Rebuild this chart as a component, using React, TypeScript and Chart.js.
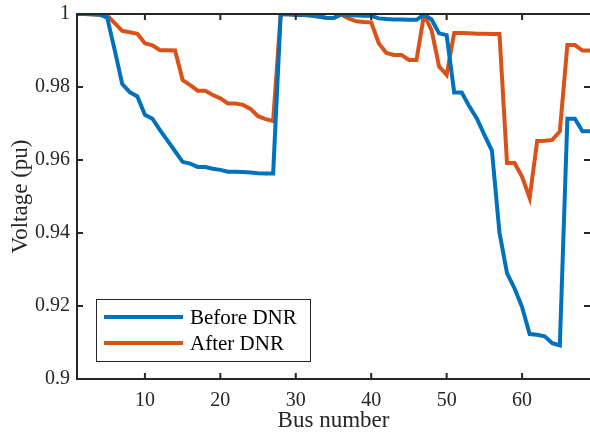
import React, { useEffect, useRef } from "react";
import { Chart, registerables } from "chart.js";

Chart.register(...registerables);

const busNumbers: number[] = Array.from({ length: 69 }, (_, i) => i + 1);

const beforeDNR: number[] = [
  1.0, 1.0, 0.9999, 0.9998, 0.999, 0.9901, 0.9808, 0.9786, 0.9774, 0.9724,
  0.9713, 0.9682, 0.9653, 0.9624, 0.9595, 0.959, 0.9581, 0.9581, 0.9576, 0.9573,
  0.9568, 0.9568, 0.9567, 0.9566, 0.9564, 0.9563, 0.9563, 0.9999, 0.9999, 0.9997,
  0.9997, 0.9996, 0.9993, 0.999, 0.9989, 0.9999, 0.9997, 0.9996, 0.9995, 0.9995,
  0.9988, 0.9986, 0.9985, 0.9985, 0.9984, 0.9984, 0.9998, 0.9985, 0.9947, 0.9942,
  0.9785, 0.9785, 0.9747, 0.9714, 0.9669, 0.9626, 0.9401, 0.929, 0.9248, 0.9197,
  0.9123, 0.9121, 0.9117, 0.9098, 0.9092, 0.9713, 0.9713, 0.9679, 0.9679,
];

const afterDNR: number[] = [
  1.0, 1.0, 0.9999, 0.9998, 0.9996, 0.9975, 0.9954, 0.995, 0.9946, 0.992,
  0.9914, 0.9901, 0.9901, 0.99, 0.9819, 0.9805, 0.979, 0.979, 0.9778, 0.9769,
  0.9755, 0.9755, 0.9751, 0.974, 0.972, 0.9712, 0.9707, 0.9999, 0.9999, 0.9998,
  0.9998, 0.9996, 0.9993, 0.999, 0.9989, 0.9999, 0.9988, 0.998, 0.9978, 0.9977,
  0.992, 0.9893, 0.9888, 0.9888, 0.9874, 0.9874, 0.9998, 0.9956, 0.9856, 0.9833,
  0.9948, 0.9948, 0.9947, 0.9946, 0.9946, 0.9945, 0.9945, 0.9592, 0.9592, 0.9554,
  0.9496, 0.9652, 0.9653, 0.9655, 0.9678, 0.9915, 0.9915, 0.99, 0.99,
];

const xTickValues: number[] = [10, 20, 30, 40, 50, 60];
const yTickValues: number[] = [0.9, 0.92, 0.94, 0.96, 0.98, 1.0];
const yTickLabels: string[] = ["0.9", "0.92", "0.94", "0.96", "0.98", "1"];
const seriesNames: string[] = ["Before DNR", "After DNR"];
const seriesColors: string[] = ["#0072BD", "#D95319"];

const FONT = "'Liberation Serif', 'Times New Roman', serif";
const AXIS_COLOR = "#262626";

const framePlugin = {
  id: "matlabFrame",
  afterDatasetsDraw(chart: any) {
    const { ctx, chartArea } = chart;
    const { left, top, bottom } = chartArea;
    const right = chart.width;
    const xs = chart.scales.x;
    const ys = chart.scales.y;
    ctx.save();
    ctx.strokeStyle = AXIS_COLOR;
    ctx.lineWidth = 2;
    ctx.beginPath();
    ctx.moveTo(right, top);
    ctx.lineTo(left, top);
    ctx.lineTo(left, bottom);
    ctx.lineTo(right, bottom);
    ctx.stroke();
    const L = 6;
    ctx.beginPath();
    xs.ticks.forEach((t: any) => {
      const px = xs.getPixelForValue(t.value);
      ctx.moveTo(px, bottom);
      ctx.lineTo(px, bottom - L);
      ctx.moveTo(px, top);
      ctx.lineTo(px, top + L);
    });
    ys.ticks.forEach((t: any) => {
      const py = ys.getPixelForValue(t.value);
      ctx.moveTo(left, py);
      ctx.lineTo(left + L, py);
      ctx.moveTo(right, py);
      ctx.lineTo(right - L, py);
    });
    ctx.stroke();

    // legend box
    const bx = 96, by = 299, bw = 214, bh = 62;
    ctx.fillStyle = "#ffffff";
    ctx.fillRect(bx, by, bw, bh);
    ctx.lineWidth = 1;
    ctx.strokeStyle = AXIS_COLOR;
    ctx.strokeRect(bx + 0.5, by + 0.5, bw, bh);
    const rows = [317, 343];
    chart.data.datasets.forEach((ds: any, i: number) => {
      const yy = rows[i];
      ctx.strokeStyle = ds.borderColor;
      ctx.lineWidth = 4;
      ctx.beginPath();
      ctx.moveTo(104, yy);
      ctx.lineTo(183, yy);
      ctx.stroke();
      ctx.fillStyle = "#000000";
      ctx.font = `21px ${FONT}`;
      ctx.textBaseline = "middle";
      ctx.textAlign = "left";
      ctx.fillText(ds.label, 190, yy + 1);
    });
    ctx.restore();
  },
};

export default function App() {
  const canvasRef = useRef<HTMLCanvasElement | null>(null);

  useEffect(() => {
    document.body.style.margin = "0";
    const canvas = canvasRef.current;
    if (!canvas) return;
    const chart = new Chart(canvas, {
      type: "line",
      data: {
        datasets: [beforeDNR, afterDNR].map((vals, i) => ({
          label: seriesNames[i],
          data: busNumbers.map((b, j) => ({ x: b, y: vals[j] })),
          borderColor: seriesColors[i],
          backgroundColor: seriesColors[i],
          borderWidth: 4,
          pointRadius: 0,
          tension: 0,
          fill: false,
        })),
      },
      options: {
        responsive: false,
        animation: false,
        events: [],
        layout: { padding: { top: 14, right: 0, bottom: 0, left: 0 } },
        plugins: {
          legend: { display: false },
          tooltip: { enabled: false },
        },
        scales: {
          x: {
            type: "linear",
            min: 1,
            max: 69,
            grid: { display: false, drawTicks: false },
            border: { display: false },
            afterBuildTicks: (axis: any) => {
              axis.ticks = xTickValues.map((v) => ({ value: v }));
            },
            afterFit: (axis: any) => {
              axis.height = 56;
              axis.paddingLeft = 0;
              axis.paddingRight = 0;
              axis.paddingTop = 0;
              axis.paddingBottom = 0;
            },
            ticks: {
              color: AXIS_COLOR,
              font: { family: FONT, size: 20 },
              padding: 10,
              maxRotation: 0,
              autoSkip: false,
              callback: (v: any) => String(v),
            },
            title: {
              display: true,
              text: "Bus number",
              color: AXIS_COLOR,
              font: { family: FONT, size: 23 },
              padding: { top: 0, bottom: 0 },
            },
          },
          y: {
            type: "linear",
            min: 0.9,
            max: 1.0,
            grid: { display: false, drawTicks: false },
            border: { display: false },
            afterBuildTicks: (axis: any) => {
              axis.ticks = yTickValues.map((v) => ({ value: v }));
            },
            afterFit: (axis: any) => {
              axis.width = 77;
              axis.paddingLeft = 0;
              axis.paddingRight = 0;
              axis.paddingTop = 0;
              axis.paddingBottom = 0;
            },
            ticks: {
              color: AXIS_COLOR,
              font: { family: FONT, size: 20 },
              padding: 7,
              autoSkip: false,
              callback: (v: any) => {
                const idx = yTickValues.findIndex((t) => Math.abs(t - v) < 1e-6);
                return idx >= 0 ? yTickLabels[idx] : "";
              },
            },
            title: {
              display: true,
              text: "Voltage (pu)",
              color: AXIS_COLOR,
              font: { family: FONT, size: 23 },
              padding: { top: 7, bottom: 0 },
            },
          },
        },
      },
      plugins: [framePlugin],
    });
    return () => chart.destroy();
  }, []);

  return (
    <canvas
      ref={canvasRef}
      width={590}
      height={435}
      style={{ display: "block", width: 590, height: 435 }}
    />
  );
}
